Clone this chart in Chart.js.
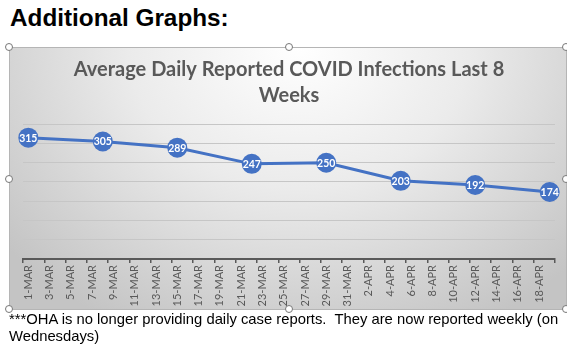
<!DOCTYPE html>
<html>
<head>
<meta charset="utf-8">
<script src="https://cdn.jsdelivr.net/npm/chart.js@4.4.1/dist/chart.umd.min.js"></script>
<style>
  html, body { margin: 0; padding: 0; width: 567px; height: 353px; overflow: hidden; background: #fff; }
  #heading { position: absolute; left: 10px; top: 4px; font: bold 24.3px "Liberation Sans", Arial, sans-serif; color: #000; white-space: nowrap; }
  #frame { position: absolute; left: 9px; top: 47px; width: 557px; height: 262px;
    background: radial-gradient(ellipse 68% 120% at 52% 0%, #ffffff 0%, #ebebeb 45%, #c4c4c4 100%); }
  #frame canvas { position: absolute; left: 0; top: 0; }
  #border { position: absolute; left: 9px; top: 47px; width: 556px; height: 261px; border: 1px solid #b5b5b5; pointer-events: none; }
  .h { position: absolute; width: 6px; height: 6px; border-radius: 50%; border: 1px solid #777; background: #fff; }
  #note { position: absolute; left: 9px; top: 311px; width: 562px; font: 14.8px "Liberation Sans", Arial, sans-serif; line-height: 16.5px; color: #000; }
</style>
</head>
<body>
<div id="heading">Additional Graphs:</div>
<div id="frame"><canvas id="c" width="557" height="262"></canvas></div>
<div id="border"></div>
<div class="h" style="left:5px;top:43px"></div>
<div class="h" style="left:285px;top:43px"></div>
<div class="h" style="left:562px;top:43px"></div>
<div class="h" style="left:5px;top:175px"></div>
<div class="h" style="left:562px;top:175px"></div>
<div class="h" style="left:5px;top:305px"></div>
<div class="h" style="left:285px;top:305px"></div>
<div class="h" style="left:562px;top:305px"></div>
<div id="note">***OHA is no longer providing daily case reports.&nbsp; They are now reported weekly (on Wednesdays)</div>
<script>
// ---- data ----
const chartTitle = ['Average Daily Reported COVID Infections Last 8', 'Weeks'];
const dayLabels = [
  '1-MAR','2-MAR','3-MAR','4-MAR','5-MAR','6-MAR','7-MAR','8-MAR','9-MAR','10-MAR',
  '11-MAR','12-MAR','13-MAR','14-MAR','15-MAR','16-MAR','17-MAR','18-MAR','19-MAR','20-MAR',
  '21-MAR','22-MAR','23-MAR','24-MAR','25-MAR','26-MAR','27-MAR','28-MAR','29-MAR','30-MAR',
  '31-MAR','1-APR','2-APR','3-APR','4-APR','5-APR','6-APR','7-APR','8-APR','9-APR',
  '10-APR','11-APR','12-APR','13-APR','14-APR','15-APR','16-APR','17-APR','18-APR','19-APR'
];
const reportDates = ['1-MAR','8-MAR','15-MAR','22-MAR','29-MAR','5-APR','12-APR','19-APR'];
const avgDailyCases = [315, 305, 289, 247, 250, 203, 192, 174];
const yMin = 0, yMax = 350, yStep = 50;

const points = reportDates.map((d, i) => ({ x: d, y: avgDailyCases[i] }));

const dataLabelPlugin = {
  id: 'dataLabels',
  afterDatasetsDraw(chart) {
    const ctx = chart.ctx;
    const meta = chart.getDatasetMeta(0);
    ctx.save();
    ctx.fillStyle = '#ffffff';
    ctx.font = 'bold 10.5px Lato, "Open Sans", sans-serif';
    ctx.textAlign = 'center';
    ctx.textBaseline = 'middle';
    meta.data.forEach((pt, i) => {
      ctx.fillText(String(avgDailyCases[i]), pt.x, pt.y + 0.5);
    });
    ctx.restore();
  }
};

new Chart(document.getElementById('c'), {
  type: 'line',
  data: {
    labels: dayLabels,
    datasets: [{
      data: points,
      borderColor: '#4472C4',
      backgroundColor: '#4472C4',
      borderWidth: 3,
      pointRadius: 10,
      pointHoverRadius: 10,
      pointBackgroundColor: '#4472C4',
      pointBorderColor: '#4472C4',
      pointBorderWidth: 0,
      tension: 0,
      fill: false
    }]
  },
  options: {
    responsive: false,
    animation: false,
    events: [],
    layout: { padding: { left: 14, right: 11, top: 0, bottom: 0 } },
    plugins: {
      legend: { display: false },
      tooltip: { enabled: false },
      title: {
        display: true,
        text: chartTitle,
        color: '#595959',
        font: { family: 'Lato, "Open Sans", sans-serif', size: 20, weight: 'bold', lineHeight: 1.33 },
        padding: { top: 9, bottom: 15 }
      }
    },
    scales: {
      x: {
        type: 'category',
        offset: true,
        grid: {
          offset: true,
          drawOnChartArea: false,
          drawTicks: true,
          tickLength: 4,
          lineWidth: 1.5,
          color: (c) => (c.index === undefined || c.index % 2 === 0) ? '#595959' : 'rgba(0,0,0,0)'
        },
        border: { display: true, color: '#595959', width: 2 },
        ticks: {
          autoSkip: false,
          maxRotation: 90,
          minRotation: 90,
          padding: 2,
          color: '#595959',
          font: { family: 'Lato, "Open Sans", sans-serif', size: 11 },
          callback: function (v, i) { return i % 2 === 0 ? this.getLabelForValue(v) : ''; }
        },
        afterFit: (s) => { s.height = 50; }
      },
      y: {
        min: yMin, max: yMax,
        ticks: { display: false, stepSize: yStep },
        grid: { color: '#c6c6c6', lineWidth: 1, drawTicks: false },
        border: { display: false }
      }
    }
  },
  plugins: [dataLabelPlugin]
});
</script>
</body>
</html>
